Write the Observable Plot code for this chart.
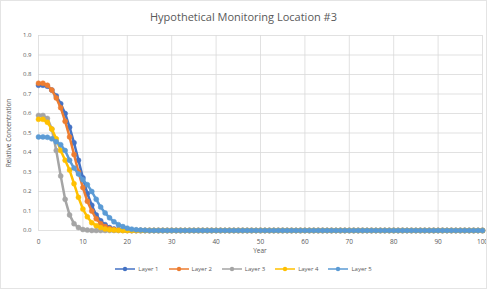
<!DOCTYPE html>
<html><head><meta charset="utf-8">
<script src="https://cdn.jsdelivr.net/npm/d3@7"></script>
<script src="https://cdn.jsdelivr.net/npm/@observablehq/plot@0.6"></script>
<style>
body{margin:0;background:#fff;font-family:"Open Sans","Liberation Sans",sans-serif;}
#wrap{position:relative;width:487px;height:289px;overflow:hidden;}
#border{position:absolute;left:0;top:0;width:485px;height:287px;border:1px solid #e4e4e4;pointer-events:none;}
#title{position:absolute;left:0;width:487px;top:9px;text-align:center;font-size:11px;color:#595959;}
#xlab{position:absolute;left:38px;width:444px;top:246px;text-align:center;font-size:6.5px;color:#595959;}
#legend{position:absolute;left:0;width:487px;top:265px;display:flex;justify-content:center;gap:10px;font-size:6px;color:#595959;}
.li{display:flex;align-items:center;gap:3px;}
#chart{position:absolute;left:0;top:0;}
</style></head>
<body><div id="wrap"><div id="chart"></div><div id="title">Hypothetical Monitoring Location #3</div><div id="xlab">Year</div><div id="legend"></div><div id="border"></div></div>
<script>
const years = [0,1,2,3,4,5,6,7,8,9,10,11,12,13,14,15,16,17,18,19,20,21,22,23,24,25,26,27,28,29,30,31,32,33,34,35,36,37,38,39,40,41,42,43,44,45,46,47,48,49,50,51,52,53,54,55,56,57,58,59,60,61,62,63,64,65,66,67,68,69,70,71,72,73,74,75,76,77,78,79,80,81,82,83,84,85,86,87,88,89,90,91,92,93,94,95,96,97,98,99,100];
const seriesNames = ["Layer 1","Layer 2","Layer 3","Layer 4","Layer 5"];
const colors = ["#4472C4","#ED7D31","#A5A5A5","#FFC000","#5B9BD5"];
const layer1 = [0.745,0.745,0.74,0.72,0.69,0.65,0.6,0.53,0.45,0.36,0.27,0.19,0.13,0.08,0.05,0.03,0.015,0.008,0.004,0.002,0.001,0,0,0,0,0,0,0,0,0,0,0,0,0,0,0,0,0,0,0,0,0,0,0,0,0,0,0,0,0,0,0,0,0,0,0,0,0,0,0,0,0,0,0,0,0,0,0,0,0,0,0,0,0,0,0,0,0,0,0,0,0,0,0,0,0,0,0,0,0,0,0,0,0,0,0,0,0,0,0,0];
const layer2 = [0.755,0.755,0.745,0.72,0.68,0.63,0.56,0.48,0.39,0.3,0.22,0.15,0.1,0.06,0.035,0.02,0.01,0.005,0.002,0.001,0,0,0,0,0,0,0,0,0,0,0,0,0,0,0,0,0,0,0,0,0,0,0,0,0,0,0,0,0,0,0,0,0,0,0,0,0,0,0,0,0,0,0,0,0,0,0,0,0,0,0,0,0,0,0,0,0,0,0,0,0,0,0,0,0,0,0,0,0,0,0,0,0,0,0,0,0,0,0,0,0];
const layer3 = [0.59,0.59,0.575,0.52,0.41,0.28,0.16,0.08,0.035,0.015,0.005,0.002,0,0,0,0,0,0,0,0,0,0,0,0,0,0,0,0,0,0,0,0,0,0,0,0,0,0,0,0,0,0,0,0,0,0,0,0,0,0,0,0,0,0,0,0,0,0,0,0,0,0,0,0,0,0,0,0,0,0,0,0,0,0,0,0,0,0,0,0,0,0,0,0,0,0,0,0,0,0,0,0,0,0,0,0,0,0,0,0,0];
const layer4 = [0.57,0.57,0.555,0.52,0.47,0.41,0.36,0.31,0.24,0.17,0.11,0.07,0.04,0.025,0.015,0.008,0.004,0.002,0.001,0,0,0,0,0,0,0,0,0,0,0,0,0,0,0,0,0,0,0,0,0,0,0,0,0,0,0,0,0,0,0,0,0,0,0,0,0,0,0,0,0,0,0,0,0,0,0,0,0,0,0,0,0,0,0,0,0,0,0,0,0,0,0,0,0,0,0,0,0,0,0,0,0,0,0,0,0,0,0,0,0,0];
const layer5 = [0.48,0.48,0.478,0.47,0.455,0.44,0.41,0.36,0.32,0.29,0.26,0.235,0.2,0.16,0.12,0.09,0.065,0.045,0.03,0.02,0.012,0.007,0.004,0.002,0.001,0,0,0,0,0,0,0,0,0,0,0,0,0,0,0,0,0,0,0,0,0,0,0,0,0,0,0,0,0,0,0,0,0,0,0,0,0,0,0,0,0,0,0,0,0,0,0,0,0,0,0,0,0,0,0,0,0,0,0,0,0,0,0,0,0,0,0,0,0,0,0,0,0,0,0,0];
const xTicks = [0,10,20,30,40,50,60,70,80,90,100];
const yTicks = [0,0.1,0.2,0.3,0.4,0.5,0.6,0.7,0.8,0.9,1.0];

const allSeries = [layer1,layer2,layer3,layer4,layer5];
const data = [];
allSeries.forEach((vals,i)=>vals.forEach((v,j)=>data.push({series:seriesNames[i],year:years[j],value:v})));

const marks = [
  Plot.gridX(xTicks,{stroke:"#d9d9d9",strokeOpacity:1,strokeWidth:0.8}),
  Plot.gridY(yTicks,{stroke:"#d9d9d9",strokeOpacity:1,strokeWidth:0.8}),
];
seriesNames.forEach((s,i)=>{
  const d = data.filter(r=>r.series===s);
  marks.push(Plot.line(d,{x:"year",y:"value",stroke:colors[i],strokeWidth:2.5}));
  marks.push(Plot.dot(d,{x:"year",y:"value",fill:colors[i],r:2.5,stroke:colors[i],strokeWidth:0.5}));
});
marks.push(Plot.axisX(xTicks,{tickSize:0,tickPadding:9,fontSize:6.5,color:"#595959",label:null}));
marks.push(Plot.axisY(yTicks,{tickSize:0,tickPadding:7,fontSize:6,color:"#595959",tickFormat:d3.format(".1f"),label:null}));

const chart = Plot.plot({
  width:487,height:289,
  marginLeft:38,marginRight:5,marginTop:35,marginBottom:59,
  x:{domain:[0,100]},
  y:{domain:[0,1]},
  style:{fontFamily:"Open Sans, Liberation Sans, sans-serif",background:"transparent"},
  marks
});
document.getElementById("chart").appendChild(chart);

const svg = d3.select(chart);
svg.append("text").attr("transform","translate(11,133) rotate(-90)").attr("text-anchor","middle")
  .attr("font-size","6.5px").attr("fill","#595959").text("Relative Concentration");

const leg = document.getElementById("legend");
seriesNames.forEach((s,i)=>{
  const it=document.createElement("div");it.className="li";
  it.innerHTML=`<svg width="20" height="6"><line x1="0" x2="20" y1="3" y2="3" stroke="${colors[i]}" stroke-width="1.5"/><circle cx="10" cy="3" r="2.2" fill="${colors[i]}"/></svg><span>${s}</span>`;
  leg.appendChild(it);
});
</script></body></html>
